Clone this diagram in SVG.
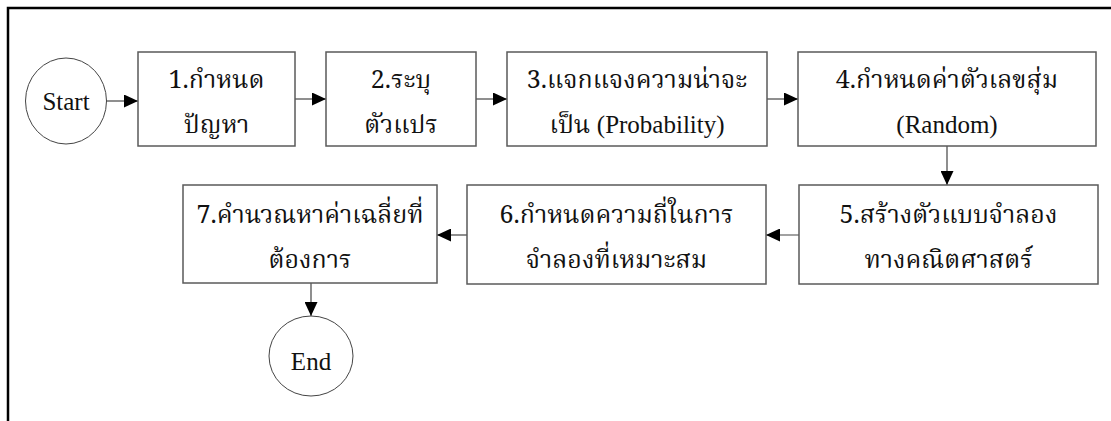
<svg xmlns="http://www.w3.org/2000/svg" width="1111" height="421" viewBox="0 0 1111 421">
<style>
.box{fill:#fff;stroke:#5a5a5a;stroke-width:1.5}
.circ{fill:#fff;stroke:#444;stroke-width:1}
.t{font-family:"Noto Serif Thai","Noto Sans Thai","Liberation Serif",serif;font-size:25px;fill:#111;text-anchor:middle}
.l{font-family:"Liberation Serif",serif}
.c{stroke:#444;stroke-width:1.2;fill:none;marker-end:url(#ah)}
</style>
<defs>
<marker id="ah" viewBox="0 0 14 13" refX="14" refY="6.5" markerWidth="14" markerHeight="13" markerUnits="userSpaceOnUse" orient="auto">
<path d="M0,0 L14,6.5 L0,13 Z" fill="#000"/>
</marker>
</defs>
<rect width="1111" height="421" fill="#fff"/>
<path d="M8,421 V8 H1111" fill="none" stroke="#000" stroke-width="2.5"/>
<g id="connectors">
<path class="c" d="M106,101 H138"/>
<path class="c" d="M295,99 H326"/>
<path class="c" d="M476,99 H507"/>
<path class="c" d="M767,99 H798"/>
<path class="c" d="M947,146 V185"/>
<path class="c" d="M799,235 H766"/>
<path class="c" d="M467,235 H437"/>
<path class="c" d="M311,283 V316"/>
</g>
<g id="start">
<ellipse class="circ" cx="66" cy="101" rx="40.5" ry="43"/>
<text class="t l" x="66" y="110">Start</text>
</g>
<g id="n1">
<rect class="box" x="138" y="52" width="157" height="94"/>
<text class="t" x="216.5" y="88">1.กำหนด</text>
<text class="t" x="216.5" y="133">ปัญหา</text>
</g>
<g id="n2">
<rect class="box" x="326" y="52" width="150" height="94"/>
<text class="t" x="401" y="88">2.ระบุ</text>
<text class="t" x="401" y="133">ตัวแปร</text>
</g>
<g id="n3">
<rect class="box" x="507" y="52" width="260" height="94"/>
<text class="t" x="637" y="88">3.แจกแจงความน่าจะ</text>
<text class="t" x="637" y="133">เป็น <tspan class="l">(Probability)</tspan></text>
</g>
<g id="n4">
<rect class="box" x="798" y="52" width="298" height="94"/>
<text class="t" x="947" y="88">4.กำหนดค่าตัวเลขสุ่ม</text>
<text class="t l" x="947" y="133">(Random)</text>
</g>
<g id="n5">
<rect class="box" x="799" y="185" width="299" height="99"/>
<text class="t" x="948.5" y="223">5.สร้างตัวแบบจำลอง</text>
<text class="t" x="948.5" y="268">ทางคณิตศาสตร์</text>
</g>
<g id="n6">
<rect class="box" x="467" y="185" width="299" height="99"/>
<text class="t" x="616.5" y="223">6.กำหนดความถี่ในการ</text>
<text class="t" x="616.5" y="268">จำลองที่เหมาะสม</text>
</g>
<g id="n7">
<rect class="box" x="183" y="185" width="254" height="98"/>
<text class="t" x="310" y="223">7.คำนวณหาค่าเฉลี่ยที่</text>
<text class="t" x="310" y="268">ต้องการ</text>
</g>
<g id="end">
<ellipse class="circ" cx="311" cy="356" rx="42" ry="40"/>
<text class="t l" x="311" y="370">End</text>
</g>
</svg>
